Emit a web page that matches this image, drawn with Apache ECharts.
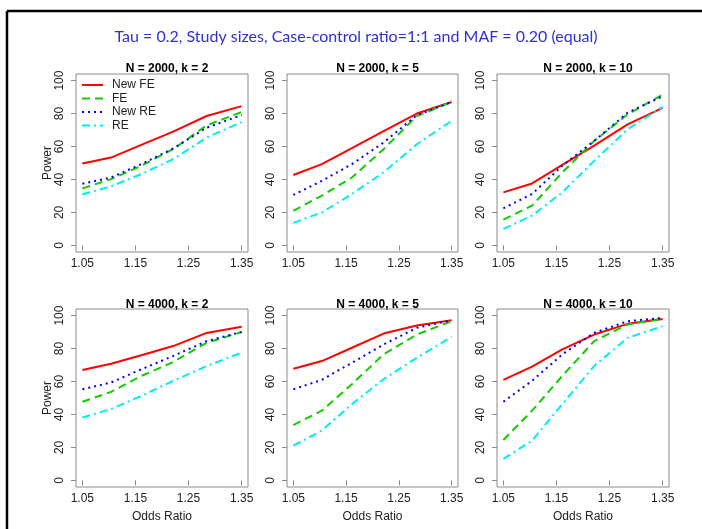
<!DOCTYPE html>
<html>
<head>
<meta charset="utf-8">
<script src="https://cdn.jsdelivr.net/npm/echarts@6/dist/echarts.min.js"></script>
<style>
    html, body { margin: 0; padding: 0; background: #fff; }
    #powerChart { width: 702px; height: 529px; }
</style>
</head>
<body>
<div id="powerChart"></div>
<script>
'use strict'

// odds ratios at which power was simulated
var oddsRatio = [1.05, 1.104, 1.161, 1.221, 1.284, 1.35];
var xTicks = [1.05, 1.15, 1.25, 1.35];
var yTicks = [0, 20, 40, 60, 80, 100];
var methodNames = ['New FE', 'FE', 'New RE', 'RE'];
var panelTitles = ['N = 2000, k = 2', 'N = 2000, k = 5', 'N = 2000, k = 10',
    'N = 4000, k = 2', 'N = 4000, k = 5', 'N = 4000, k = 10'];

// power (%) per panel, one array per method
var n2000k2NewFE = [49.7, 53.3, 61, 69, 78.5, 84.5];
var n2000k2FE = [34.6, 40.2, 48.3, 58.4, 72.8, 80.9];
var n2000k2NewRE = [37.4, 41.2, 49.3, 58.8, 71.4, 79.1];
var n2000k2RE = [31, 35.8, 43.3, 52.3, 65.4, 74.8];

var n2000k5NewFE = [42.7, 49.3, 59, 69.4, 80, 87];
var n2000k5FE = [21, 30.2, 41.2, 58.4, 78.5, 87];
var n2000k5NewRE = [30.6, 39.2, 49.3, 62.4, 79, 87];
var n2000k5RE = [13.7, 20, 31.2, 44.3, 61.4, 75.5];

var n2000k10NewFE = [32.2, 37.6, 48.8, 60.6, 73.4, 83.5];
var n2000k10FE = [15.7, 24.1, 44.3, 63.4, 79.5, 91.5];
var n2000k10NewRE = [22.5, 31.2, 48.3, 63.4, 80.5, 90.5];
var n2000k10RE = [10, 18.1, 32.2, 51.3, 70.4, 84.1];

var n4000k2NewFE = [67, 70.8, 75.9, 81.5, 89.5, 93.2];
var n4000k2FE = [47.7, 53.7, 63.4, 71.8, 83.5, 90];
var n4000k2NewRE = [55.3, 59.4, 67.4, 75.5, 84.5, 90.1];
var n4000k2RE = [38.2, 43.3, 51.3, 60.4, 69.4, 77.5];

var n4000k5NewFE = [67.8, 72.4, 80.5, 89.1, 94, 97.2];
var n4000k5FE = [33.6, 42.3, 58.4, 76.5, 88.5, 96.6];
var n4000k5NewRE = [55.3, 61, 71.4, 82.5, 92.6, 97.2];
var n4000k5RE = [21.1, 30.2, 46.3, 61.4, 74.4, 87.1];

var n4000k10NewFE = [61, 69, 79.5, 88.5, 95, 98];
var n4000k10FE = [24.5, 42.3, 63.4, 84.5, 94.6, 98];
var n4000k10NewRE = [47.7, 60.4, 76.5, 89.5, 96.6, 98.6];
var n4000k10RE = [13.1, 24.1, 46.3, 69.4, 86.5, 93.6];

var panelData = [
    [n2000k2NewFE, n2000k2FE, n2000k2NewRE, n2000k2RE],
    [n2000k5NewFE, n2000k5FE, n2000k5NewRE, n2000k5RE],
    [n2000k10NewFE, n2000k10FE, n2000k10NewRE, n2000k10RE],
    [n4000k2NewFE, n4000k2FE, n4000k2NewRE, n4000k2RE],
    [n4000k5NewFE, n4000k5FE, n4000k5NewRE, n4000k5RE],
    [n4000k10NewFE, n4000k10FE, n4000k10NewRE, n4000k10RE]
];

var font = '"Liberation Sans", Arial, sans-serif';
var lineStyles = [
    {color: '#ff0000', width: 2, type: 'solid'},
    {color: '#11cc00', width: 2, type: [8, 5]},
    {color: '#0000ff', width: 2, type: [2, 4]},
    {color: '#00eeee', width: 2, type: [8, 4, 2, 4]}
];

var lefts = [76, 287, 497];
var widths = [172, 171, 172];
var tops = [74, 309];

var grids = [], xAxes = [], yAxes = [], titles = [], series = [];

titles.push({
    text: 'Tau = 0.2, Study sizes, Case-control ratio=1:1 and MAF = 0.20 (equal)',
    left: 351,
    top: 24,
    textAlign: 'center',
    textStyle: {fontFamily: 'Lato, "Open Sans", sans-serif', fontSize: 16, fontWeight: 'normal', color: '#3030d8'}
});

for (var p = 0; p < 6; p++) {
    var col = p % 3, row = Math.floor(p / 3);
    grids.push({
        left: lefts[col], top: tops[row], width: widths[col], height: 178,
        show: true, borderColor: '#8a8a8a', borderWidth: 1, backgroundColor: 'transparent'
    });
    titles.push({
        text: panelTitles[p],
        left: lefts[col] + widths[col] / 2,
        top: row === 0 ? 58 : 294,
        textAlign: 'center',
        textStyle: {fontFamily: font, fontSize: 12, fontWeight: 'bold', color: '#000'}
    });
    xAxes.push({
        gridIndex: p, type: 'value', min: 1.038, max: 1.362,
        axisLine: {show: false},
        splitLine: {show: false},
        axisTick: {show: true, inside: false, length: 5, customValues: xTicks, lineStyle: {color: '#8a8a8a'}},
        axisLabel: {customValues: xTicks, margin: 6, fontFamily: font, fontSize: 12, color: '#222',
            formatter: function (v) { return v.toFixed(2); }},
        name: row === 1 ? 'Odds Ratio' : '',
        nameLocation: 'middle', nameGap: 24,
        nameTextStyle: {fontFamily: font, fontSize: 12, color: '#222'}
    });
    yAxes.push({
        gridIndex: p, type: 'value', min: -4, max: 104,
        axisLine: {show: false},
        splitLine: {show: false},
        axisTick: {show: true, inside: false, length: 5, customValues: yTicks, lineStyle: {color: '#8a8a8a'}},
        axisLabel: {customValues: yTicks, rotate: 90, margin: 10, fontFamily: font, fontSize: 12, color: '#222'},
        name: col === 0 ? 'Power' : '',
        nameLocation: 'middle', nameGap: 22, nameRotate: 90, nameMoveOverlap: false,
        nameTextStyle: {fontFamily: font, fontSize: 12, color: '#222'}
    });
    for (var m = 0; m < 4; m++) {
        var vals = panelData[p][m];
        series.push({
            name: methodNames[m],
            type: 'line',
            xAxisIndex: p,
            yAxisIndex: p,
            symbol: 'none',
            silent: true,
            animation: false,
            lineStyle: lineStyles[m],
            itemStyle: {color: lineStyles[m].color},
            data: oddsRatio.map(function (x, i) { return [x, vals[i]]; })
        });
    }
}

var chart = echarts.init(document.getElementById('powerChart'));
chart.setOption({
    backgroundColor: '#fff',
    animation: false,
    textStyle: {fontFamily: font},
    title: titles,
    grid: grids,
    xAxis: xAxes,
    yAxis: yAxes,
    legend: {
        data: methodNames,
        orient: 'vertical',
        left: 81,
        top: 78.5,
        padding: 0,
        itemWidth: 21,
        itemHeight: 10,
        itemGap: 0.5,
        selectedMode: false,
        itemStyle: {opacity: 0},
        textStyle: {fontFamily: font, fontSize: 12, lineHeight: 13, color: '#222', padding: [0, 0, 0, 4]}
    },
    // outer frame of the slide
    graphic: [
        {type: 'line', shape: {x1: 7, y1: 11, x2: 702, y2: 11}, style: {stroke: '#000', lineWidth: 2.5}},
        {type: 'line', shape: {x1: 7, y1: 11, x2: 7, y2: 529}, style: {stroke: '#000', lineWidth: 2.5}}
    ],
    series: series
});
</script>
</body>
</html>
